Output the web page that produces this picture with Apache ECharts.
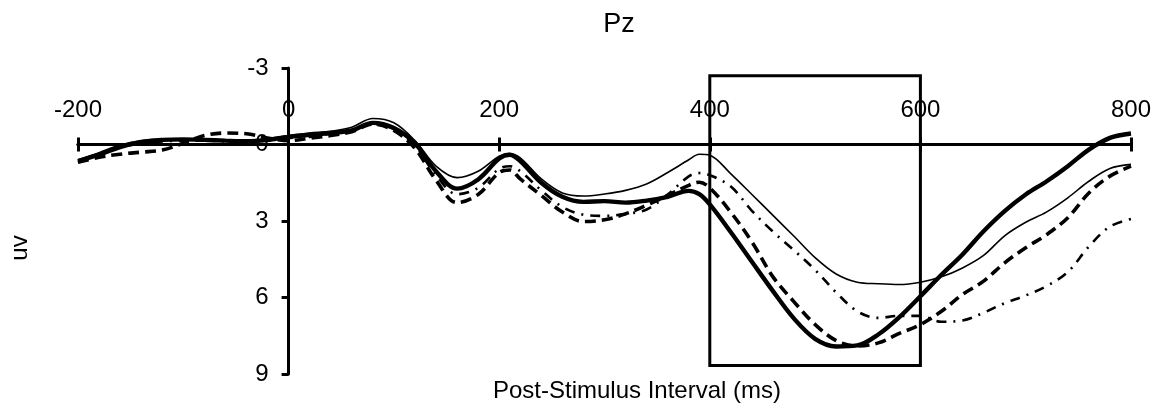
<!DOCTYPE html>
<html>
<head>
<meta charset="utf-8">
<title>Pz</title>
<script src="https://cdn.jsdelivr.net/npm/echarts@6/dist/echarts.min.js"></script>
<style>
    html, body { margin: 0; padding: 0; background: #fff; }
    #chart { width: 1159px; height: 411px; }
</style>
</head>
<body>
<div id="chart"></div>
<script>
// time points (ms)
var times = [-200, -180, -160, -140, -120, -100, -80, -60, -40, -20, 0, 20, 40, 60, 80, 100, 120, 140, 160, 180,
    200, 210, 220, 240, 260, 280, 300, 320, 340, 360, 380, 390, 400, 420, 440, 460, 480, 500, 520, 540, 560, 580,
    600, 620, 640, 660, 680, 700, 720, 740, 760, 780, 800];

// thick solid
var thickSolid = [0.65, 0.4, 0.1, -0.1, -0.18, -0.2, -0.18, -0.15, -0.13, -0.18, -0.3, -0.38, -0.45, -0.55, -0.85, -0.65, -0.05, 1.05, 1.73, 1.37,
    0.55, 0.4, 0.65, 1.5, 2.05, 2.25, 2.22, 2.28, 2.2, 2.05, 1.82, 1.95, 2.35, 3.44, 4.6, 5.75, 6.83, 7.62, 7.92, 7.88, 7.45, 6.77,
    5.95, 5.11, 4.31, 3.4, 2.61, 1.96, 1.44, 0.85, 0.2, -0.26, -0.43];

// thin solid
var thinSolid = [0.6, 0.32, 0.02, -0.15, -0.2, -0.2, -0.18, -0.15, -0.15, -0.22, -0.35, -0.45, -0.52, -0.68, -1.02, -0.85, -0.15, 0.85, 1.3, 1.05,
    0.46, 0.35, 0.52, 1.35, 1.9, 2.02, 1.94, 1.8, 1.55, 1.1, 0.6, 0.38, 0.42, 1.15, 1.96, 2.78, 3.6, 4.44, 5.08, 5.4, 5.46, 5.49,
    5.4, 5.19, 4.84, 4.35, 3.58, 3.05, 2.64, 2.09, 1.44, 0.94, 0.78];

// thick dashed
var dashed = [0.7, 0.5, 0.38, 0.3, 0.22, -0.05, -0.35, -0.45, -0.42, -0.25, -0.15, -0.25, -0.35, -0.5, -0.8, -0.55, 0.15, 1.4, 2.28, 1.96,
    1.1, 1.0, 1.35, 2.0, 2.65, 3.02, 2.95, 2.72, 2.38, 2.0, 1.6, 1.48, 1.7, 2.66, 3.82, 5.19, 6.17, 7.06, 7.69, 7.9, 7.78, 7.41,
    7.06, 6.54, 5.88, 5.36, 4.64, 4.05, 3.53, 2.87, 1.9, 1.24, 0.85];

// dash-dot
var dashDot = [0.7, 0.42, 0.12, -0.05, -0.12, -0.15, -0.15, -0.12, -0.1, -0.15, -0.25, -0.3, -0.42, -0.55, -0.8, -0.6, 0.05, 1.2, 1.95, 1.7,
    0.95, 0.85, 1.05, 1.8, 2.45, 2.75, 2.8, 2.72, 2.55, 1.96, 1.25, 1.12, 1.2, 1.65, 2.6, 3.42, 4.15, 4.92, 5.8, 6.54, 6.8, 6.72,
    6.72, 6.95, 6.9, 6.6, 6.22, 5.92, 5.55, 5.0, 4.0, 3.22, 2.92];

// axis ranges
var xRange = [-200, 800];
var yRange = [-3, 9];

// analysis window box
var windowTimes = [400, 600];
var windowLevels = [-2.7, 8.67];

var FONT = "'Liberation Sans', Arial, sans-serif";
var GRID = { left: 78, right: 28, top: 68, bottom: 37 };
var W = 1159, H = 411;

// axes cross at zero: shift them inward from the grid edge
var gridW = W - GRID.left - GRID.right;
var gridH = H - GRID.top - GRID.bottom;
var xAxisShift = -gridH * (0 - yRange[0]) / (yRange[1] - yRange[0]);
var yAxisShift = -gridW * (0 - xRange[0]) / (xRange[1] - xRange[0]);

function pairs(values) {
    return times.map(function (t, i) { return [t, values[i]]; });
}

function lineSeries(name, values, width, type) {
    return {
        name: name,
        type: 'line',
        data: pairs(values),
        showSymbol: false,
        symbol: 'none',
        smooth: 0.35,
        lineStyle: { color: '#000', width: width, type: type, cap: 'butt' },
        z: 3
    };
}

var series = [
    lineSeries('thin', thinSolid, 1.6, 'solid'),
    lineSeries('dashdot', dashDot, 2.6, [10, 7, 2, 7]),
    lineSeries('dashed', dashed, 3.6, [11, 6]),
    lineSeries('thick', thickSolid, 4.4, 'solid')
];

// box drawn as a mark area
series[0].markArea = {
    silent: true,
    itemStyle: { color: 'rgba(0,0,0,0)', borderColor: '#000', borderWidth: 3 },
    data: [[
        { xAxis: windowTimes[0], yAxis: windowLevels[0] },
        { xAxis: windowTimes[1], yAxis: windowLevels[1] }
    ]]
};

var tickStyle = { color: '#000', width: 3 };

function xAxisDef(extra) {
    return Object.assign({
        type: 'value',
        min: xRange[0],
        max: xRange[1],
        interval: 200,
        position: 'top',
        offset: xAxisShift,
        splitLine: { show: false },
        axisLine: { show: true, onZero: false, lineStyle: { color: '#000', width: 3 } }
    }, extra);
}

var option = {
    animation: false,
    grid: { left: GRID.left, right: GRID.right, top: GRID.top, bottom: GRID.bottom, containLabel: false },
    xAxis: [
        xAxisDef({
            axisTick: { show: true, inside: false, length: 7, lineStyle: tickStyle },
            axisLabel: { show: true, margin: 22, color: '#000', fontSize: 24, fontFamily: FONT }
        }),
        // second copy only for the tick half below the line
        xAxisDef({
            axisTick: { show: true, inside: true, length: 7, lineStyle: tickStyle },
            axisLabel: { show: false }
        })
    ],
    yAxis: {
        type: 'value',
        inverse: true,
        min: yRange[0],
        max: yRange[1],
        interval: 3,
        position: 'left',
        offset: yAxisShift,
        splitLine: { show: false },
        axisLine: { show: true, onZero: false, lineStyle: { color: '#000', width: 3 } },
        axisTick: { show: true, inside: false, length: 7, lineStyle: tickStyle },
        axisLabel: { margin: 20, color: '#000', fontSize: 24, fontFamily: FONT }
    },
    graphic: [
        {
            type: 'text', x: 619, y: 25,
            style: { text: 'Pz', fill: '#000', fontSize: 27, fontFamily: FONT,
                align: 'center', verticalAlign: 'middle', textAlign: 'center', textVerticalAlign: 'middle' }
        },
        {
            type: 'text', x: 637, y: 391,
            style: { text: 'Post-Stimulus Interval (ms)', fill: '#000', fontSize: 24, fontFamily: FONT,
                align: 'center', verticalAlign: 'middle', textAlign: 'center', textVerticalAlign: 'middle' }
        },
        {
            type: 'text', x: 20, y: 248, rotation: Math.PI / 2,
            style: { text: 'uv', fill: '#000', fontSize: 24, fontFamily: FONT,
                align: 'center', verticalAlign: 'middle', textAlign: 'center', textVerticalAlign: 'middle' }
        }
    ],
    series: series
};

var myChart = echarts.init(document.getElementById('chart'));
myChart.setOption(option);
</script>
</body>
</html>
